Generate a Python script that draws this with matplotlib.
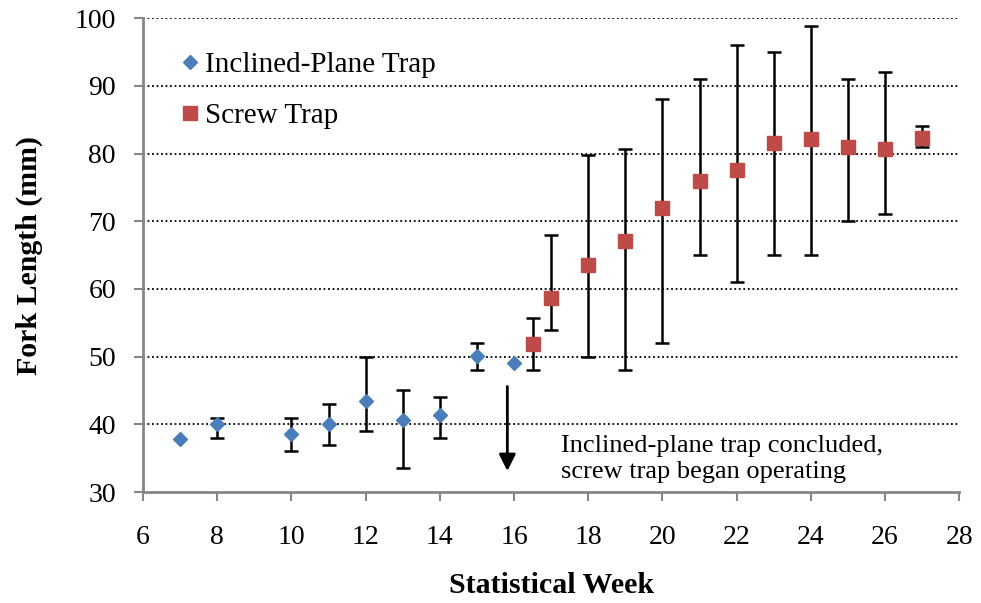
import numpy as np
import matplotlib.pyplot as plt

plt.rcParams['font.family'] = ['Liberation Serif', 'DejaVu Serif']

# Inclined-plane trap: mean fork length by week, with low/high range
ip_week = [7, 8, 10, 11, 12, 13, 14, 15, 16]
ip_mean = [37.9, 40.0, 38.6, 40.1, 43.5, 40.7, 41.4, 50.1, 49.1]
ip_low = [37.9, 38.0, 36.0, 37.0, 39.0, 33.6, 38.0, 48.0, 49.1]
ip_high = [37.9, 41.0, 41.0, 43.0, 50.0, 45.0, 44.0, 52.0, 49.1]

# Screw trap
st_week = [16.5, 17, 18, 19, 20, 21, 22, 23, 24, 25, 26, 27]
st_mean = [51.8, 58.7, 63.6, 67.1, 72.0, 75.9, 77.5, 81.5, 82.2, 80.9, 80.6, 82.3]
st_low = [48.0, 54.0, 50.0, 48.0, 52.0, 65.0, 61.0, 65.0, 65.0, 70.0, 71.0, 81.0]
st_high = [55.7, 68.0, 79.8, 80.7, 88.0, 91.0, 96.0, 95.0, 98.8, 91.0, 92.0, 84.0]

blue = '#4A7EBB'
red = '#BE4B48'
axis_grey = '#868686'

fig = plt.figure(figsize=(9.81, 6.03), dpi=100)
ax = fig.add_axes([0.1458, 0.184, 0.832, 0.786])

ip_mean = np.array(ip_mean)
ip_err = [ip_mean - np.array(ip_low), np.array(ip_high) - ip_mean]
st_mean = np.array(st_mean)
st_err = [st_mean - np.array(st_low), np.array(st_high) - st_mean]

# error bars only where there is a range
has_err = (ip_err[0] > 0) | (ip_err[1] > 0)
ax.errorbar(np.array(ip_week)[has_err], ip_mean[has_err],
            yerr=[ip_err[0][has_err], ip_err[1][has_err]],
            fmt='none', ecolor='black', elinewidth=1.8, capsize=4.7, capthick=1.8, zorder=3)
ax.errorbar(st_week, st_mean, yerr=st_err,
            fmt='none', ecolor='black', elinewidth=1.8, capsize=4.7, capthick=1.8, zorder=3)

ax.plot(ip_week, ip_mean, linestyle='none', marker='D', markersize=7,
        color=blue, label='Inclined-Plane Trap', zorder=4)
ax.plot(st_week, st_mean, linestyle='none', marker='s', markersize=10.5,
        color=red, label='Screw Trap', zorder=4)

ax.set_xlim(6, 28)
ax.set_ylim(30, 100)
ax.set_xticks(np.arange(6, 29, 2))
ax.set_yticks(np.arange(30, 101, 10))

for y in range(40, 101, 10):
    ax.axhline(y, color='black', linestyle=(0, (1, 1.5)), linewidth=1.3, zorder=1)

for side in ['top', 'right']:
    ax.spines[side].set_visible(False)
for side in ['left', 'bottom']:
    ax.spines[side].set_color(axis_grey)
    ax.spines[side].set_linewidth(2)
ax.tick_params(axis='both', colors=axis_grey, length=6.5, width=1.5,
               labelcolor='black', labelsize=20, direction='out')
ax.tick_params(axis='x', pad=17)
ax.tick_params(axis='y', pad=13)

ax.set_xlabel('Statistical Week', fontsize=21.5, fontweight='bold')
ax.set_ylabel('Fork Length (mm)', fontsize=21.5, fontweight='bold')
ax.xaxis.set_label_coords(0.5, -0.169)
ax.yaxis.set_label_coords(-0.123, 0.5)

ax.annotate('', xy=(15.82, 32.7), xytext=(15.82, 46.0),
            arrowprops=dict(arrowstyle='-|>,head_length=1.0,head_width=0.5',
                            color='black', linewidth=2))
ax.text(17.27, 34.9, 'Inclined-plane trap concluded,\nscrew trap began operating',
        fontsize=19, ha='left', va='center', linespacing=1.25)

leg = ax.legend(loc='upper left', bbox_to_anchor=(0.0214, 0.966), frameon=False,
                fontsize=21, handlelength=0.8, handletextpad=0.12,
                labelspacing=0.85, borderaxespad=0.2)

fig.savefig('out.png', dpi=100)
